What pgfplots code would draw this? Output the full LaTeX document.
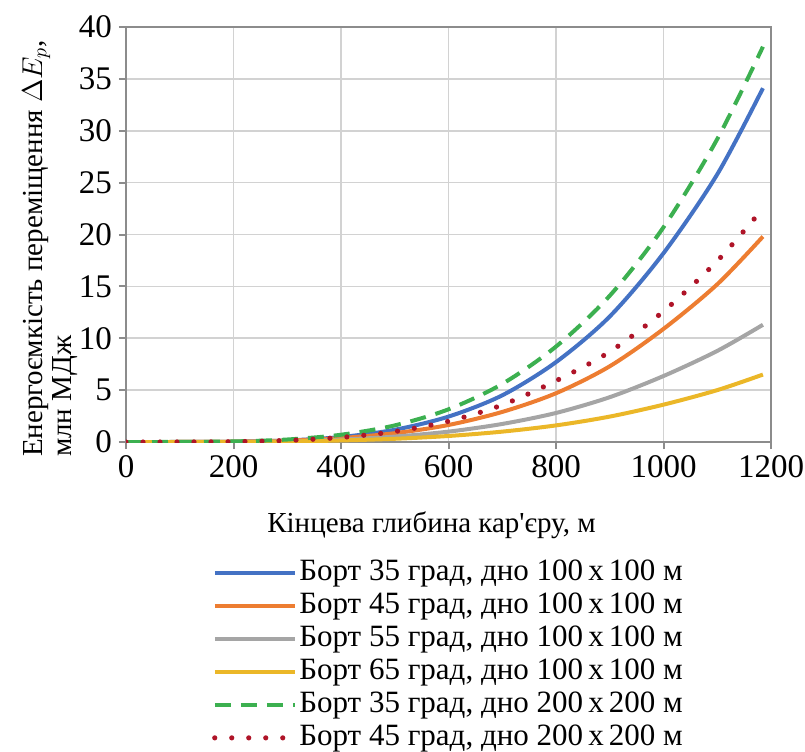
\documentclass[border=0pt]{standalone}
\usepackage{fontspec}
\setmainfont{Liberation Serif}
\usepackage{pgfplots}
\pgfplotsset{compat=1.18}
\usetikzlibrary{calc}
\definecolor{cblue}{RGB}{68,114,196}
\definecolor{corange}{RGB}{237,125,49}
\definecolor{cgray}{RGB}{165,165,165}
\definecolor{cyellow}{RGB}{235,183,40}
\definecolor{cgreen}{RGB}{60,176,80}
\definecolor{cred}{RGB}{175,20,40}
\definecolor{gridgray}{RGB}{210,210,210}
\definecolor{axgray}{RGB}{140,140,140}

\begin{document}
\begin{tikzpicture}
\begin{axis}[
  name=ax,
  scale only axis,
  width=322.5bp, height=207.5bp,
  xmin=0, xmax=1200, ymin=0, ymax=40,
  xtick={0,200,...,1200}, ytick={0,5,...,40},
  grid=major,
  grid style={draw=gridgray, line width=0.8bp},
  axis line style={draw=axgray, line width=1.2bp},
  tick align=outside, tick pos=left,
  major tick length=3.5bp,
  tick style={draw=axgray, line width=1bp},
  /pgf/number format/assume math mode=true,
  /pgf/number format/1000 sep={},
  tick label style={font=\fontsize{16.5bp}{18bp}\selectfont, text=black},
  label style={font=\fontsize{14.5bp}{14.5bp}\selectfont},
  xlabel={Кінцева глибина кар\textquotesingle єру, м},
  xlabel style={yshift=-10bp, xshift=-8.5bp},
  ylabel={Енергоємкість переміщення $\Delta E_p$,\\млн МДж},
  ylabel style={align=left, xshift=-7bp},
  ylabel shift=-6bp,
  legend style={
    at={(0.5,-0.265)}, anchor=north,
    draw=none, fill=none,
    font=\fontsize{15.5bp}{17bp}\selectfont,
    row sep=0bp,
    nodes={inner sep=1bp, text height=11bp, text depth=3.5bp}
  },
  legend cell align=left,
  legend image code/.code={\draw[#1] (0bp,0bp) -- (40bp,0bp);},
  every axis plot/.append style={smooth, line width=2bp}
]

\addplot[cblue] coordinates {
  (0,0) (100,0.002) (200,0.03) (300,0.15) (400,0.48) (500,1.18) (600,2.45)
  (700,4.5) (800,7.7) (900,12.1) (1000,18.2) (1100,25.8) (1185,34.1)
};
\addplot[corange] coordinates {
  (0,0) (100,0.001) (200,0.03) (300,0.14) (400,0.38) (500,0.85) (600,1.64)
  (700,2.9) (800,4.7) (900,7.3) (1000,10.9) (1100,15.2) (1185,19.8)
};
\addplot[cgray] coordinates {
  (0,0) (100,0.001) (200,0.02) (300,0.08) (400,0.23) (500,0.52) (600,1.0)
  (700,1.74) (800,2.8) (900,4.32) (1000,6.36) (1100,8.78) (1185,11.3)
};
\addplot[cyellow] coordinates {
  (0,0) (100,0.001) (200,0.01) (300,0.05) (400,0.15) (500,0.31) (600,0.58)
  (700,1.0) (800,1.6) (900,2.45) (1000,3.6) (1100,5.0) (1185,6.5)
};
\addplot[cgreen, dash pattern=on 8bp off 5bp] coordinates {
  (0,0) (100,0.005) (200,0.054) (300,0.24) (400,0.70) (500,1.6) (600,3.15)
  (700,5.6) (800,9.2) (900,14.1) (1000,20.7) (1100,29.2) (1185,38.1)
};
\addplot[cred, line width=2.6bp, line cap=round, dash pattern=on 0bp off 8.5bp] coordinates {
  (0,0) (100,0.002) (200,0.03) (300,0.15) (400,0.44) (500,1.01) (600,2.0)
  (700,3.57) (800,5.9) (900,8.7) (1000,12.6) (1100,17.45) (1185,22.5)
};

\legend{{Борт 35 град, дно 100\,x\,100 м},
        {Борт 45 град, дно 100\,x\,100 м},
        {Борт 55 град, дно 100\,x\,100 м},
        {Борт 65 град, дно 100\,x\,100 м},
        {Борт 35 град, дно 200\,x\,200 м},
        {Борт 45 град, дно 200\,x\,200 м}}
\end{axis}
\pgfresetboundingbox
\path[use as bounding box] ($(ax.south west)+(-63bp,-155bp)$) rectangle ($(ax.north east)+(17bp,13.5bp)$);
\end{tikzpicture}
\end{document}
